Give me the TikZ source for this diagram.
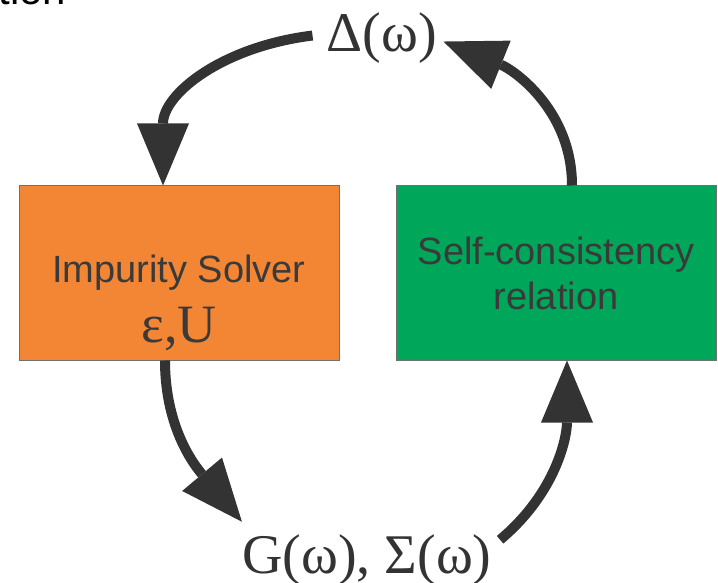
\documentclass[tikz,border=0pt]{standalone}
\usepackage{fontspec}
\setmainfont{Liberation Serif}
\setsansfont{Liberation Sans}
\usepackage{tikz}
\usetikzlibrary{positioning, arrows.meta, calc}
\usepackage{xcolor}
\definecolor{solverorange}{HTML}{F28634}
\definecolor{loopgreen}{HTML}{00A65A}
\definecolor{boxedge}{HTML}{707070}
\definecolor{arrowgray}{HTML}{333333}
\definecolor{textgray}{HTML}{3A3A3A}

\begin{document}
\begin{tikzpicture}[x=0.5pt, y=-0.5pt, >={Triangle[length=31pt,width=26pt,line width=0pt,fill=arrowgray]},
                flow/.style={line width=5pt, draw=arrowgray}]

                \useasboundingbox (0,0) rectangle (718,583);

                % Define the styles for the boxes and the texts
                \tikzset{block/.style={rectangle, draw=boxedge, line width=0.5pt, minimum width=160pt, minimum height=87pt, inner sep=0pt},
                         blocktext/.style={align=center, text=textgray, font=\sffamily\fontsize{19}{22.5}\selectfont},
                         symtext/.style={anchor=base, inner sep=0pt, text=arrowgray, font=\fontsize{28}{32}\selectfont}}

                % Nodes
                \node[anchor=base west, inner sep=0pt, font=\sffamily\fontsize{21}{25}\selectfont] (caption) at (-2,5) {tion};
                \node[symtext] (delta) at (382,52) {Δ(ω)};
                \node[block, fill=solverorange] (solver) at (179,273) {};
                \node[blocktext] (solvertext) at ([yshift=-15pt]solver.center) {Impurity Solver\\[7.5pt]{\rmfamily\fontsize{27}{30}\selectfont ε,U}};
                \node[block, blocktext, fill=loopgreen] (selfcons) at (556,273) {Self-consistency\\relation};
                \node[symtext] (gsig) at (367,573) {G(ω), Σ(ω)};

                % Paths
                \path[->]
                ($(delta.west)+(-14,-3)$) edge[flow, out=187, in=90, looseness=1.1] ($(solver.north)+(-16,0)$)
                ($(solver.south)+(-14,0)$) edge[flow, out=270, in=130] ($(gsig.north west)+(0,-12)$)
                ($(gsig.north east)+(8,6)$) edge[flow, out=40, in=270] ($(selfcons.south)+(11,0)$)
                ($(selfcons.north)+(16,0)$) edge[flow, out=90, in=-22] ($(delta.east)+(6,3)$);
            \end{tikzpicture}
\end{document}
